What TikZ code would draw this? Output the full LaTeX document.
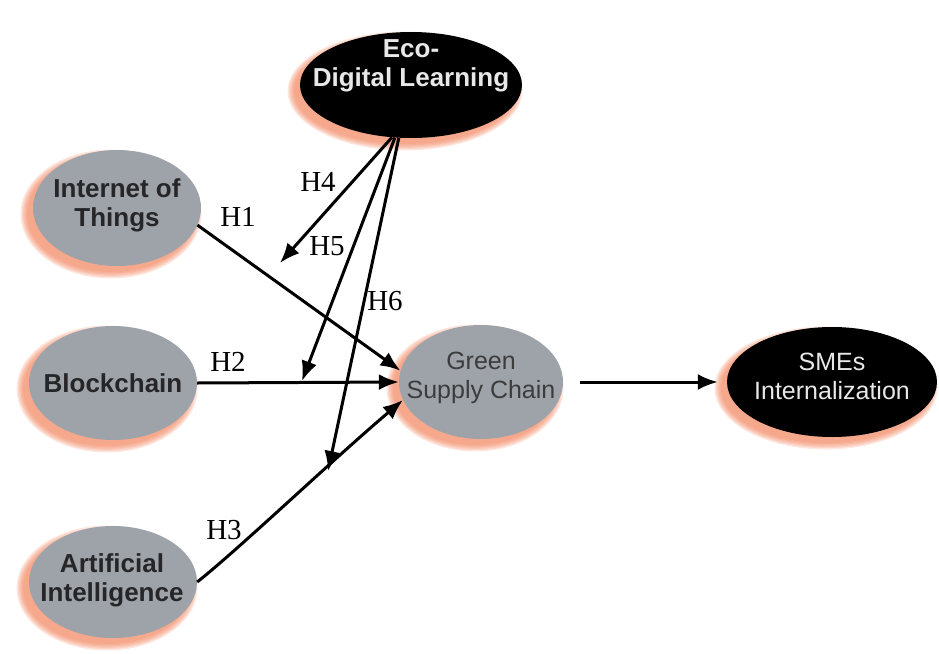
\documentclass[tikz,border=0pt]{standalone}
\usepackage{fontspec}
\setmainfont{Liberation Sans}
\newfontfamily\serifH{Liberation Serif}
\usetikzlibrary{arrows.meta,shapes.geometric}
\definecolor{nodegray}{RGB}{158,163,170}
\definecolor{glowc}{RGB}{242,130,90}
\definecolor{txtdark}{RGB}{38,38,40}
\definecolor{txtlight}{RGB}{232,232,232}
\newcommand\glowell[4]{%
  \foreach \k in {0,...,5}{\fill[glowc,opacity=0.18] (#1-6,#2+6) ellipse ({#3+1.3*\k} and {#4+1.3*\k});}%
}
\tikzset{
  ell/.style={ellipse,draw=none,inner sep=0pt},
  grayell/.style={ell,fill=nodegray},
  blackell/.style={ell,fill=black},
  boldtxt/.style={font=\fontsize{26}{29}\selectfont\bfseries,text=txtdark,align=center},
  boldwhite/.style={font=\fontsize{26}{29}\selectfont\bfseries,text=txtlight,align=center},
  regtxt/.style={font=\fontsize{25}{29}\selectfont,text=txtdark!90!white,align=center},
  regwhite/.style={font=\fontsize{25}{29}\selectfont,text=txtlight,align=center},
  hlab/.style={font=\serifH\fontsize{29}{31}\selectfont,text=black,inner sep=0pt},
  arr/.style={line width=3pt,-{Latex[length=20pt,width=16pt]}}
}
\begin{document}
\begin{tikzpicture}[x=1pt,y=-1pt]
\useasboundingbox (0,0) rectangle (939,653);
% glows
\glowell{411}{85}{111}{53}
\glowell{117}{208}{84}{58}
\glowell{113}{383}{84}{57}
\glowell{113}{582}{84}{56}
\glowell{481}{382}{82}{57}
\glowell{832}{382}{105}{55}
% ellipses
\node[blackell,minimum width=222pt,minimum height=106pt] (eco) at (411,85) {};
\node[grayell,minimum width=168pt,minimum height=116pt] (iot) at (117,208) {};
\node[grayell,minimum width=168pt,minimum height=114pt] (blk) at (113,383) {};
\node[grayell,minimum width=168pt,minimum height=112pt] (ai) at (113,582) {};
\node[grayell,minimum width=164pt,minimum height=114pt] (gsc) at (481,382) {};
\node[blackell,minimum width=210pt,minimum height=110pt] (sme) at (832,382) {};
% texts
\node[boldwhite] (ecoT) at (411,66) {Eco-\\Digital Learning};
\node[boldtxt] (iotT) at (117,205) {Internet of\\Things};
\node[boldtxt] (blkT) at (113,383) {Blockchain};
\node[boldtxt] (aiT) at (112,580) {Artificial\\Intelligence};
\node[regtxt] (gscT) at (481,378) {Green\\Supply Chain};
\node[regwhite] (smeT) at (832,376) {SMEs\\Internalization};
% tips of moderating arrows
\coordinate (t4) at (280,263);
\coordinate (t5) at (302,381);
\coordinate (t6) at (328,471);
% main arrows
\draw[arr] (iot.-12) -- (gsc.172);
\draw[arr] (blk.east) -- (gsc.west);
\draw[arr] (ai.east) .. controls (240,548) and (330,462) .. (gsc.193);
\draw[arr] ([xshift=17pt]gsc.east) -- ([xshift=-9pt]sme.west);
% moderating arrows
\draw[arr] (eco.-110) -- (t4);
\draw[arr] (eco.-107) -- (t5);
\draw[arr] (eco.-103) -- (t6);
% labels
\node[hlab] (h1) at (238,217) {H1};
\node[hlab] (h2) at (228,362) {H2};
\node[hlab] (h3) at (224,530) {H3};
\node[hlab] (h4) at (318,182) {H4};
\node[hlab] (h5) at (327,246) {H5};
\node[hlab] (h6) at (385,301) {H6};
\end{tikzpicture}
\end{document}
